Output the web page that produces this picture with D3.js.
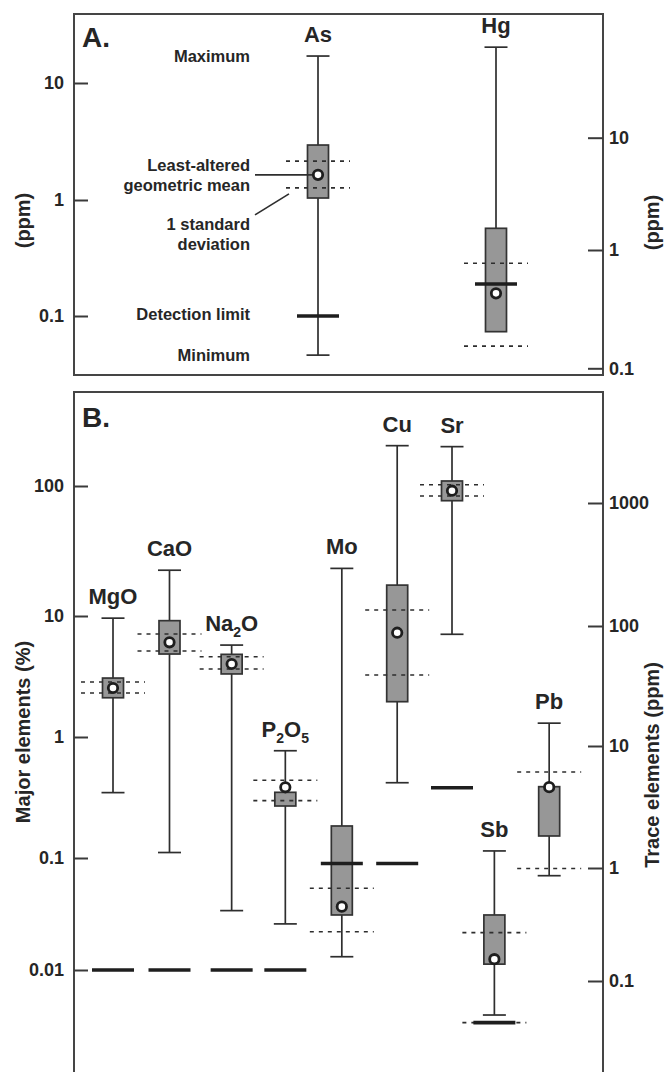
<!DOCTYPE html>
<html>
<head>
<meta charset="utf-8">
<script src="https://cdn.jsdelivr.net/npm/d3@7"></script>
<style>
  html, body { margin: 0; padding: 0; background: #fff; }
  svg { display: block; }
  text { font-family: "Liberation Sans", Arial, Helvetica, sans-serif; font-weight: bold; fill: #262626; }
</style>
</head>
<body>
<svg id="chart" width="665" height="1072"></svg>
<script>
// ---------------- Panel A data ----------------
const aElements = ["As", "Hg"];
const aAxis     = ["left", "right"];
const aSlot     = [0, 1];
const aMax      = [17.0, 64];
const aQ3       = [2.95, 1.56];
const aQ1       = [1.04, 0.204];
const aMean     = [1.64, 0.43];
const aSdHi     = [2.15, 0.772];
const aSdLo     = [1.27, 0.154];
const aMin      = [0.046, null];
const aDetect   = [0.1, 0.516];
const aLeftTicks  = [0.1, 1, 10];
const aRightTicks = [0.1, 1, 10];

// ---------------- Panel B data ----------------
const bElements = ["MgO", "CaO", "Na2O", "P2O5", "Mo", "Cu", "Sr", "Sb", "Pb"];
const bAxis     = ["left", "left", "left", "left", "right", "right", "right", "right", "right"];
const bSlot     = [0, 1, 2.1, 3.05, 4.05, 5.03, 6, 6.75, 7.72];
const bMax      = [9.6, 22.5, 5.75, 0.77, 294, 2925, 2872, 1.38, 15.5];
const bQ3       = [3.07, 9.15, 4.82, 0.349, 2.21, 215, 1510, 0.384, 4.64];
const bQ1       = [2.11, 4.85, 3.32, 0.269, 0.384, 23.4, 1044, 0.141, 1.83];
const bMean     = [2.54, 6.06, 4.01, 0.384, 0.455, 87.9, 1259, 0.156, 4.6];
const bSdHi     = [2.85, 7.1, 4.61, 0.439, 0.661, 135, 1408, 0.268, 6.12];
const bSdLo     = [2.31, 5.14, 3.65, 0.298, 0.273, 39, 1140, 0.0428, 0.99];
const bMin      = [0.347, 0.111, 0.0339, 0.0258, 0.164, 5.0, 85.3, 0.050, 0.855];
const bDetect   = [0.01, 0.01, 0.01, 0.01, 1.09, 1.09, 4.55, 0.0428, null];
const bLeftTicks  = [0.01, 0.1, 1, 10, 100];
const bRightTicks = [0.1, 1, 10, 100, 1000];

// ---------------- layout ----------------
const svg = d3.select("#chart");
const frameL = 74, frameR = 603;
const INK = "#2e2e2e";

const panelA = { top: 14, bottom: 375 };
const panelB = { top: 392, bottom: 1095 };

// irregular hand-drawn log axes -> polylinear log scales
const yAL = d3.scaleLog().domain([0.1, 1, 10]).range([316, 200, 83]);
const yAR = d3.scaleLog().domain([0.1, 1, 10]).range([368.3, 250, 137.7]);
const yBL = d3.scaleLog().domain([0.01, 0.1, 1, 10, 100]).range([970, 858, 737, 616, 486]);
const yBR = d3.scaleLog().domain([0.1, 1, 10, 100, 1000]).range([981, 868, 746, 626, 503]);

const xA = d3.scaleLinear().domain([0, 1]).range([318, 496]);
const xB = d3.scaleLinear().domain([0, 6]).range([113, 452]);

const fmt = d => String(d);

function frame(p) {
  svg.append("rect")
    .attr("x", frameL).attr("y", p.top)
    .attr("width", frameR - frameL).attr("height", p.bottom - p.top)
    .attr("fill", "none").attr("stroke", "#454545").attr("stroke-width", 2);
}

function axes(left, right, lt, rt) {
  const gl = svg.append("g").attr("transform", `translate(${frameL},0)`)
    .call(d3.axisLeft(left).tickValues(lt).tickFormat(fmt).tickSize(-14).tickSizeOuter(0).tickPadding(10));
  const gr = svg.append("g").attr("transform", `translate(${frameR},0)`)
    .call(d3.axisRight(right).tickValues(rt).tickFormat(fmt).tickSize(-15).tickSizeOuter(0).tickPadding(6));
  [gl, gr].forEach(g => {
    g.select(".domain").remove();
    g.selectAll(".tick line").attr("stroke", "#3a3a3a").attr("stroke-width", 2);
    g.selectAll(".tick text").attr("font-size", 18).attr("fill", "#262626")
      .attr("font-family", "Liberation Sans, Arial, sans-serif").attr("font-weight", "bold");
  });
}

function labelWithSubs(sel, label) {
  const parts = label.match(/[A-Za-z]+|\d+/g);
  let sub = false;
  parts.forEach(p => {
    const isNum = /^\d+$/.test(p);
    const t = sel.append("tspan").text(p);
    if (isNum) { t.attr("font-size", 14).attr("dy", 6); sub = true; }
    else if (sub) { t.attr("dy", -6); sub = false; }
  });
}

function drawBoxes(d, x, yFor) {
  const g = svg.append("g");
  d.forEach(e => {
    const y = yFor(e.axis);
    const cx = x(e.slot);
    const low = e.min != null ? e.min : e.q1;
    // whisker
    g.append("line").attr("x1", cx).attr("x2", cx).attr("y1", y(e.max)).attr("y2", y(low))
      .attr("stroke", INK).attr("stroke-width", 1.7);
    // caps
    g.append("line").attr("x1", cx - 11.5).attr("x2", cx + 11.5).attr("y1", y(e.max)).attr("y2", y(e.max))
      .attr("stroke", INK).attr("stroke-width", 1.7);
    if (e.min != null) {
      g.append("line").attr("x1", cx - 11.5).attr("x2", cx + 11.5).attr("y1", y(e.min)).attr("y2", y(e.min))
        .attr("stroke", INK).attr("stroke-width", 1.7);
    }
    // box
    g.append("rect").attr("x", cx - 10.5).attr("width", 21)
      .attr("y", y(e.q3)).attr("height", y(e.q1) - y(e.q3))
      .attr("fill", "#979797").attr("stroke", "#333").attr("stroke-width", 1.7);
    // standard deviation dashed lines
    [e.sdHi, e.sdLo].forEach(v => {
      g.append("line").attr("x1", cx - 32).attr("x2", cx + 32).attr("y1", y(v)).attr("y2", y(v))
        .attr("stroke", INK).attr("stroke-width", 1.6).attr("stroke-dasharray", "4,5");
    });
    // detection limit
    if (e.detect != null) {
      g.append("line").attr("x1", cx - 21).attr("x2", cx + 21).attr("y1", y(e.detect)).attr("y2", y(e.detect))
        .attr("stroke", "#1e1e1e").attr("stroke-width", 3.6);
    }
    // mean
    g.append("circle").attr("cx", cx).attr("cy", y(e.mean)).attr("r", 4.7)
      .attr("fill", "#fff").attr("stroke", "#1e1e1e").attr("stroke-width", 2.8);
    // element label
    const t = g.append("text").attr("x", cx).attr("y", y(e.max) - 14)
      .attr("text-anchor", "middle").attr("font-size", 22);
    labelWithSubs(t, e.name);
  });
}

// ---------------- Panel A ----------------
frame(panelA);
axes(yAL, yAR, aLeftTicks, aRightTicks);
const aData = aElements.map((n, i) => ({
  name: n, axis: aAxis[i], slot: aSlot[i], max: aMax[i], q3: aQ3[i], q1: aQ1[i],
  mean: aMean[i], sdHi: aSdHi[i], sdLo: aSdLo[i], min: aMin[i], detect: aDetect[i]
}));
drawBoxes(aData, xA, a => a === "left" ? yAL : yAR);

svg.append("text").attr("x", 82).attr("y", 47).attr("font-size", 28).text("A.");

// legend annotations (keyed to the As box)
const as = aData[0];
const annX = 250;
const ann = svg.append("g").attr("font-size", 16.5).attr("text-anchor", "end");
ann.append("text").attr("x", annX).attr("y", yAL(as.max)).attr("dy", "0.36em").text("Maximum");
ann.append("text").attr("x", annX).attr("y", yAL(as.mean) - 10).attr("dy", "0.36em").text("Least-altered");
ann.append("text").attr("x", annX).attr("y", yAL(as.mean) + 10).attr("dy", "0.36em").text("geometric mean");
ann.append("text").attr("x", annX).attr("y", yAL(as.sdLo) + 36).attr("dy", "0.36em").text("1 standard");
ann.append("text").attr("x", annX).attr("y", yAL(as.sdLo) + 56).attr("dy", "0.36em").text("deviation");
ann.append("text").attr("x", annX).attr("y", yAL(as.detect) - 2).attr("dy", "0.36em").text("Detection limit");
ann.append("text").attr("x", annX).attr("y", yAL(as.min)).attr("dy", "0.36em").text("Minimum");
svg.append("line").attr("x1", annX + 5).attr("x2", xA(as.slot) - 6)
  .attr("y1", yAL(as.mean)).attr("y2", yAL(as.mean)).attr("stroke", INK).attr("stroke-width", 1.7);
svg.append("line").attr("x1", annX + 5).attr("x2", xA(as.slot) - 29)
  .attr("y1", yAL(as.sdLo) + 27).attr("y2", yAL(as.sdLo) + 6).attr("stroke", INK).attr("stroke-width", 1.7);

// axis titles A
svg.append("text").attr("transform", `translate(30,${(panelA.top + panelA.bottom) / 2 + 26}) rotate(-90)`)
  .attr("text-anchor", "middle").attr("font-size", 20).text("(ppm)");
svg.append("text").attr("transform", `translate(659,${(panelA.top + panelA.bottom) / 2 + 28}) rotate(-90)`)
  .attr("text-anchor", "middle").attr("font-size", 20).text("(ppm)");

// ---------------- Panel B ----------------
frame(panelB);
axes(yBL, yBR, bLeftTicks, bRightTicks);
const bData = bElements.map((n, i) => ({
  name: n, axis: bAxis[i], slot: bSlot[i], max: bMax[i], q3: bQ3[i], q1: bQ1[i],
  mean: bMean[i], sdHi: bSdHi[i], sdLo: bSdLo[i], min: bMin[i], detect: bDetect[i]
}));
drawBoxes(bData, xB, a => a === "left" ? yBL : yBR);

svg.append("text").attr("x", 82).attr("y", 427).attr("font-size", 28).text("B.");

svg.append("text").attr("transform", `translate(30,732) rotate(-90)`)
  .attr("text-anchor", "middle").attr("font-size", 20).text("Major elements (%)");
svg.append("text").attr("transform", `translate(659,765) rotate(-90)`)
  .attr("text-anchor", "middle").attr("font-size", 20).text("Trace elements (ppm)");
</script>
</body>
</html>
